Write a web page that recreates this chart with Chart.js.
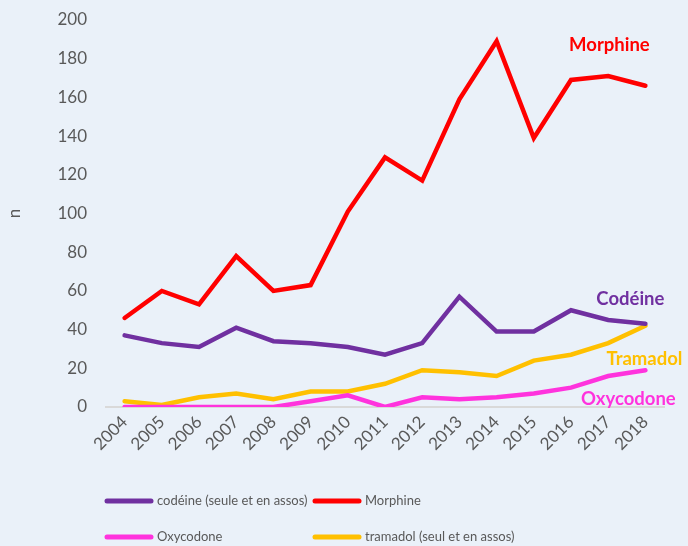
<!DOCTYPE html>
<html>
<head>
<meta charset="utf-8">
<script src="https://cdn.jsdelivr.net/npm/chart.js@4"></script>
<style>
  html, body { margin: 0; padding: 0; background: #eaf1f9; }
  #wrap { width: 688px; height: 546px; }
</style>
</head>
<body>
<div id="wrap"><canvas id="opioidChart" width="688" height="546"></canvas></div>
<script>
const years = ['2004', '2005', '2006', '2007', '2008', '2009', '2010', '2011', '2012', '2013', '2014', '2015', '2016', '2017', '2018'];
const codeine = [37, 33, 31, 41, 34, 33, 31, 27, 33, 57, 39, 39, 50, 45, 43];
const morphine = [46, 60, 53, 78, 60, 63, 101, 129, 117, 159, 189, 139, 169, 171, 166];
const oxycodone = [0, 0, 0, 0, 0, 3, 6, 0, 5, 4, 5, 7, 10, 16, 19];
const tramadol = [3, 1, 5, 7, 4, 8, 8, 12, 19, 18, 16, 24, 27, 33, 42];
const yTicks = [0, 20, 40, 60, 80, 100, 120, 140, 160, 180, 200];

const grey = '#595959';
const font = 'Lato, "Open Sans", sans-serif';

// labels at the end of each line: [text, dataset index, dx, dy]
const endLabels = [
    ['Morphine', 1, -36, -41],
    ['Codéine', 0, -15, -25],
    ['Tramadol', 3, -1, 33],
    ['Oxycodone', 2, -17, 29]
];

const extras = {
    id: 'extras',
    afterDatasetsDraw(chart) {
        const c = chart.ctx;
        const xs = chart.scales.x, ys = chart.scales.y;
        const last = years.length - 1;
        c.save();
        c.font = 'bold 18.5px ' + font;
        c.textAlign = 'center';
        c.textBaseline = 'middle';
        endLabels.forEach(([txt, i, dx, dy]) => {
            const ds = chart.data.datasets[i];
            c.fillStyle = ds.borderColor;
            c.fillText(txt, xs.getPixelForValue(last) + dx, ys.getPixelForValue(ds.data[last]) + dy);
        });
        // legend, 2 x 2
        const spots = [[105, 501], [313, 501], [105, 537], [313, 537]];
        c.font = '13px ' + font;
        c.textAlign = 'left';
        chart.data.datasets.forEach((ds, i) => {
            const [x, y] = spots[i];
            c.strokeStyle = ds.borderColor;
            c.lineWidth = 5;
            c.lineCap = 'round';
            c.beginPath();
            c.moveTo(x + 2, y);
            c.lineTo(x + 46, y);
            c.stroke();
            c.fillStyle = grey;
            c.fillText(ds.label, x + 52, y);
        });
        c.restore();
    }
};

function line(label, data, color) {
    return {
        label: label,
        data: data,
        borderColor: color,
        backgroundColor: color,
        borderWidth: 4.5,
        borderCapStyle: 'round',
        borderJoinStyle: 'miter',
        pointRadius: 0,
        fill: false,
        tension: 0
    };
}

const ctx = document.getElementById('opioidChart').getContext('2d');
const opioidChart = new Chart(ctx, {
    type: 'line',
    data: {
        labels: years,
        datasets: [
            line('codéine (seule et en assos)', codeine, '#7030a0'),
            line('Morphine', morphine, '#ff0000'),
            line('Oxycodone', oxycodone, '#ff33dd'),
            line('tramadol (seul et en assos)', tramadol, '#ffc000')
        ]
    },
    options: {
        responsive: false,
        animation: false,
        layout: { padding: { top: 20, right: 24, left: 4, bottom: 0 } },
        plugins: {
            legend: { display: false },
            tooltip: { enabled: false }
        },
        scales: {
            x: {
                offset: true,
                grid: { display: false, drawTicks: false },
                border: { display: true, color: '#d9d9d9', width: 2 },
                ticks: {
                    color: grey,
                    font: { family: font, size: 17 },
                    minRotation: 45,
                    maxRotation: 45,
                    padding: 5
                },
                afterFit(s) { s.height = 139; s.paddingTop = 0; }
            },
            y: {
                min: 0,
                max: 200,
                afterBuildTicks(s) { s.ticks = yTicks.map(v => ({ value: v })); },
                grid: { display: false, drawTicks: false },
                border: { display: false },
                ticks: {
                    color: grey,
                    font: { family: font, size: 17 },
                    padding: 19
                },
                title: {
                    display: true,
                    text: 'n',
                    color: grey,
                    font: { family: font, size: 17 },
                    padding: 0
                },
                afterFit(s) { s.width = 102; s.paddingTop = 0; s.paddingBottom = 0; }
            }
        }
    },
    plugins: [extras]
});
</script>
</body>
</html>
